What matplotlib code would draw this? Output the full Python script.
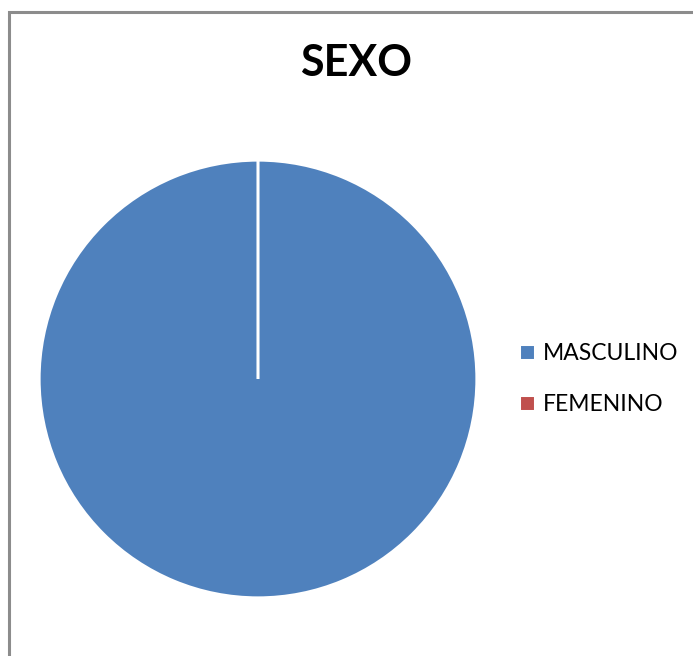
import matplotlib.pyplot as plt
from matplotlib.patches import Rectangle

categories = ['MASCULINO', 'FEMENINO']
values = [100, 0]
colors = ['#4F81BD', '#C0504D']

plt.rcParams['font.family'] = ['Lato', 'DejaVu Sans']

fig = plt.figure(figsize=(6.93, 6.56), dpi=100)

# gray chart-area border (right and bottom run off the picture)
fig.patches.append(Rectangle((8.5 / 693, -0.05), 1.0, (656 - 11.5) / 656 + 0.05,
                             transform=fig.transFigure, fill=False,
                             edgecolor='#8c8c8c', linewidth=2.2))

ax = fig.add_axes([38 / 693, (656 - 599) / 656, 440 / 693, 440 / 656])
wedges, _ = ax.pie(values, colors=colors, startangle=90, counterclock=False,
                   wedgeprops=dict(edgecolor='white', linewidth=2.2))
ax.set_xlim(-1.005, 1.005)
ax.set_ylim(-1.005, 1.005)
ax.set_aspect('equal')

fig.text(356 / 693, 1 - 63 / 656, 'SEXO', ha='center', va='center',
         fontsize=31, fontweight='bold')

fig.legend(wedges, categories, loc='center left',
           bbox_to_anchor=(498 / 693, 1 - 379 / 656), frameon=False,
           fontsize=16.5, handlelength=0.7, handleheight=0.7,
           handletextpad=0.35, labelspacing=1.3)

fig.savefig('out.png', dpi=100)
